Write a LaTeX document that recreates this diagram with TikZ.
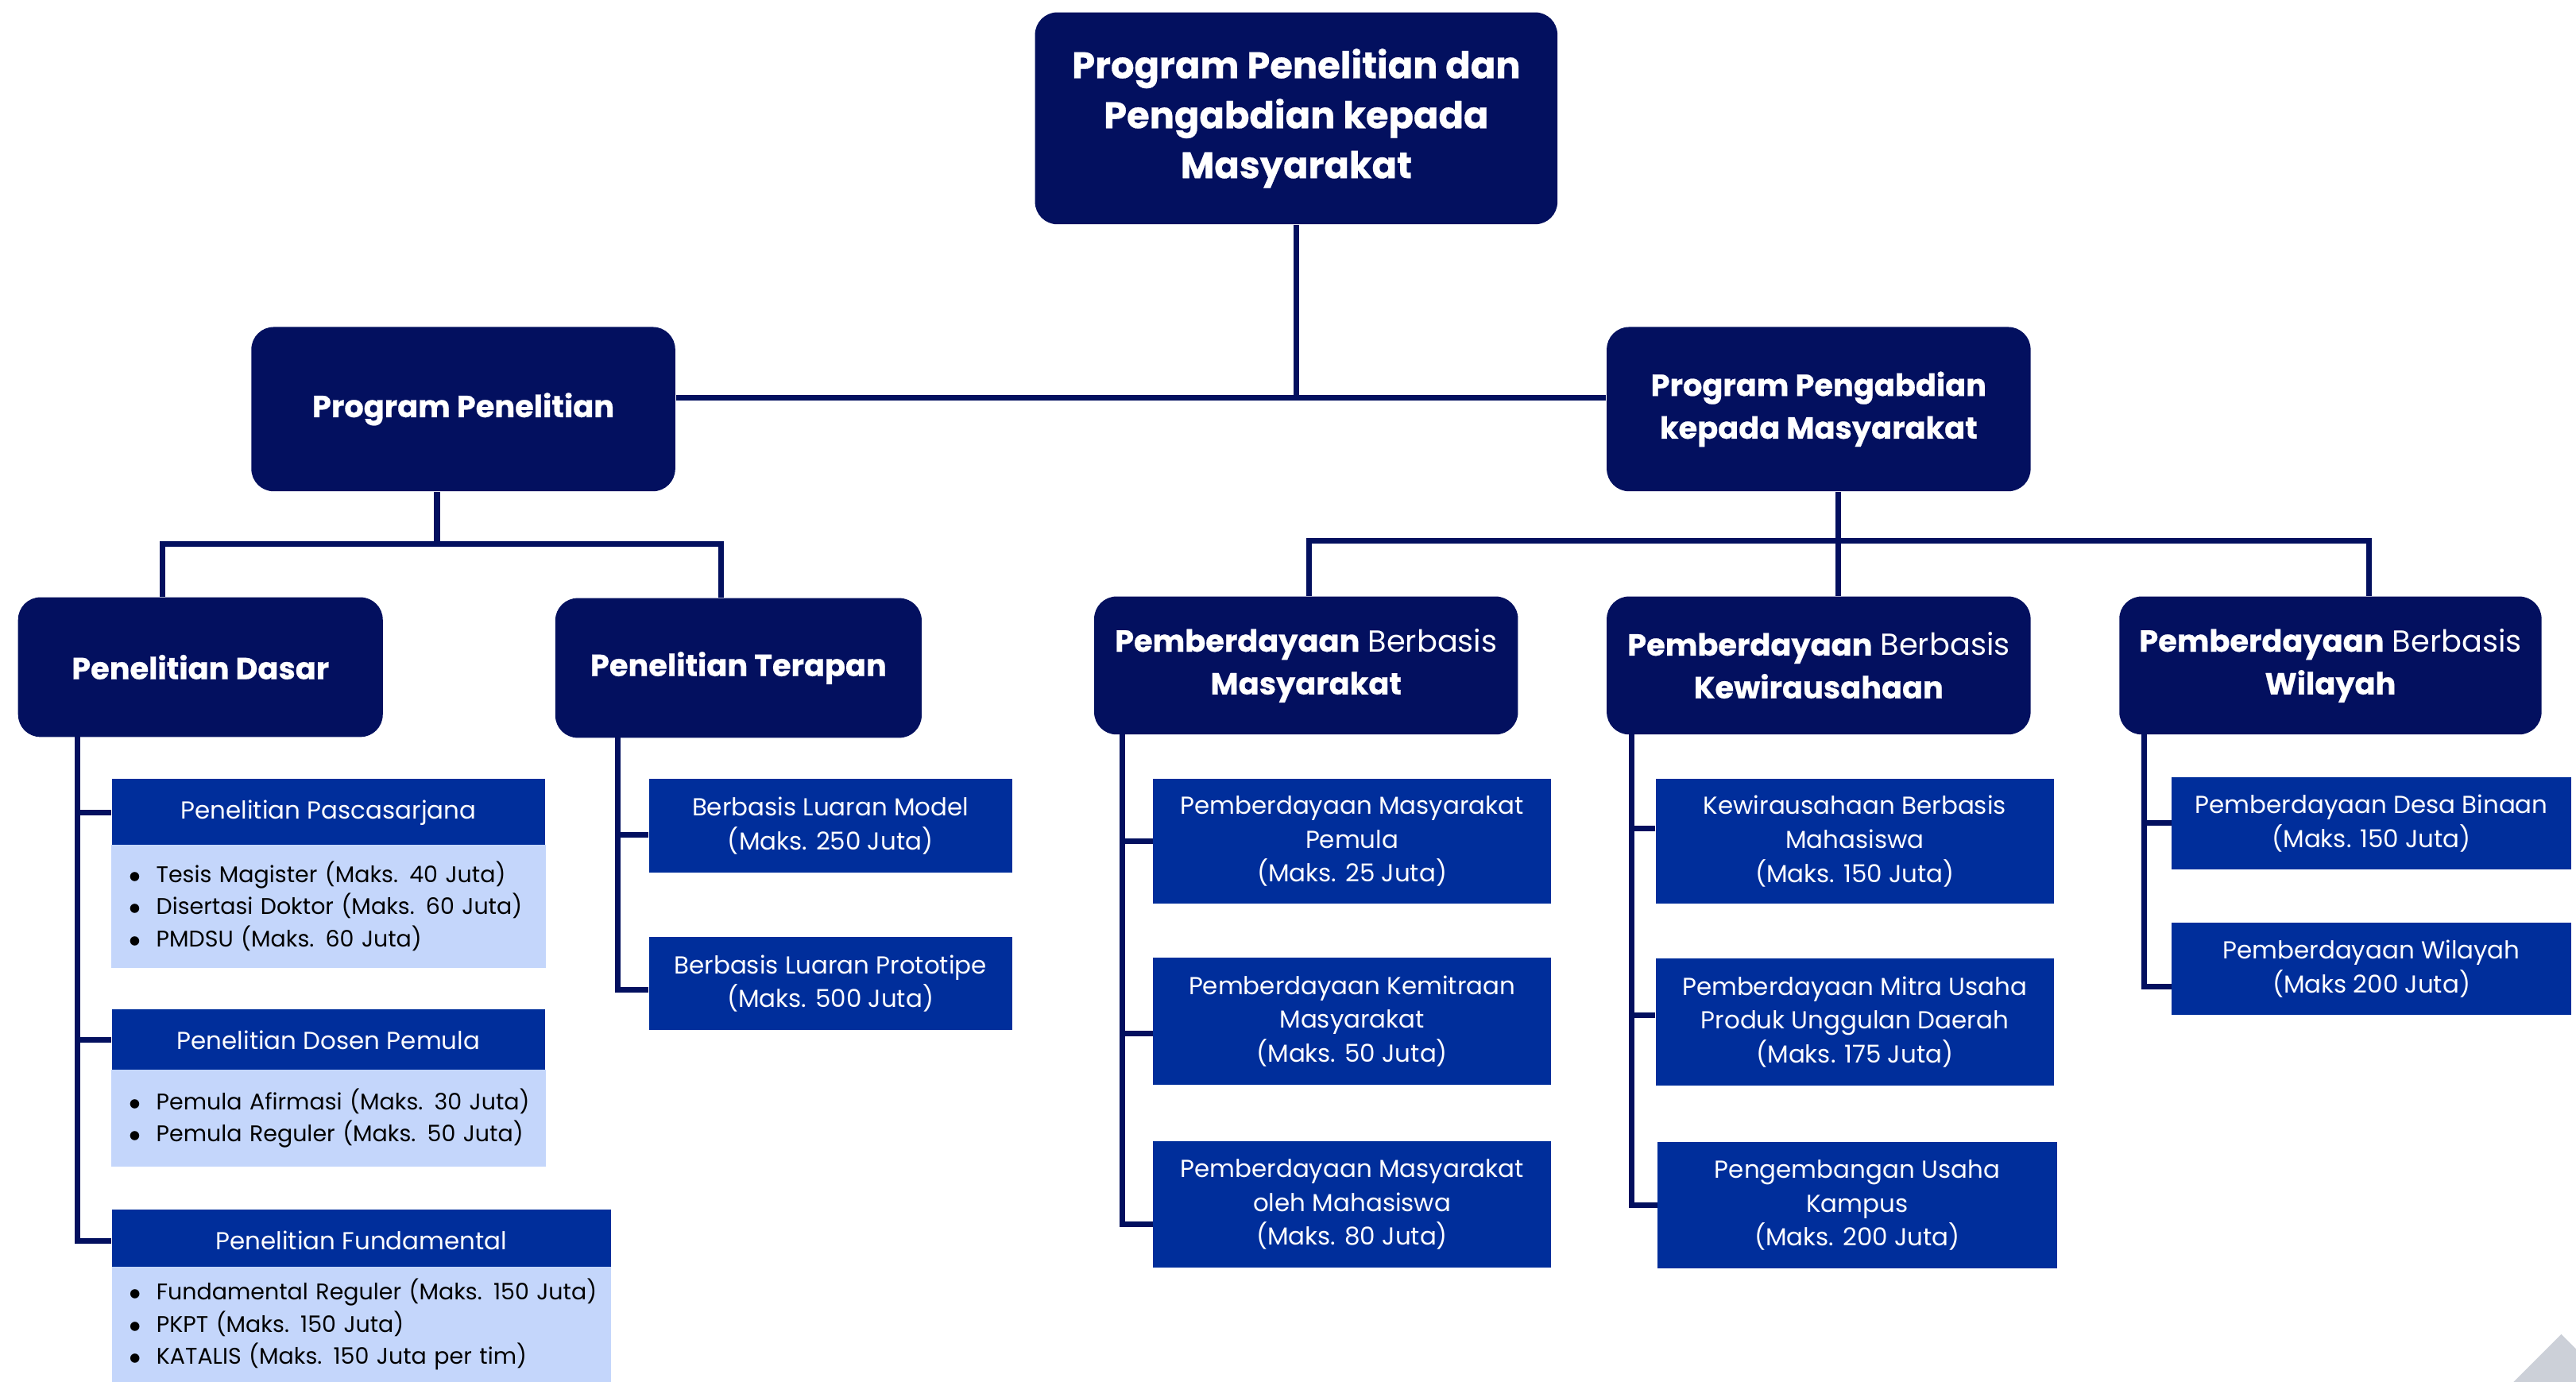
\documentclass[tikz,border=0pt]{standalone}
\usepackage{fontspec}
\setmainfont{Poppins}[BoldFeatures={FakeBold=0.6}]

\definecolor{navy}{RGB}{3,16,95}
\definecolor{royal}{RGB}{0,46,155}
\definecolor{pale}{RGB}{196,214,251}
\definecolor{ghost}{RGB}{204,208,216}

\newdimen\pxu
\pxu=0.020676cm
\newcommand{\itm}[1]{\mbox{\makebox[9.8pt][l]{$\bullet$}#1}}

\begin{document}
\begin{tikzpicture}[
        x=0.020676cm, y=-0.020676cm,
        % Box styles
        rootbox/.style={fill=navy, text=white, rounded corners=8pt, align=center, inner sep=0pt,
            font=\fontsize{13.2}{17.9}\selectfont\bfseries},
        headbox/.style={fill=navy, text=white, rounded corners=8pt, align=center, inner sep=0pt,
            font=\fontsize{10.9}{15.3}\selectfont},
        boldhead/.style={headbox, font=\fontsize{10.9}{15.3}\selectfont\bfseries},
        itembox/.style={fill=royal, text=white, align=center, inner sep=0pt,
            font=\fontsize{8.8}{12.1}\selectfont},
        listbox/.style={fill=pale, text=black, align=left, inner xsep=6.2pt, inner ysep=0pt,
            font=\fontsize{8.1}{11.5}\selectfont},
        link/.style={navy, line width=2pt},
    ]

        \useasboundingbox (0,0) rectangle (1568,841);

        % --- Top level ---
        \node[rootbox, minimum width=318*\pxu, minimum height=129*\pxu] (root) at (789,72)
            {Program Penelitian dan\\Pengabdian kepada\\Masyarakat};

        % --- Programs ---
        \node[boldhead, minimum width=258*\pxu, minimum height=100*\pxu] (penelitian) at (282,249)
            {Program Penelitian};
        \node[boldhead, minimum width=258*\pxu, minimum height=100*\pxu] (pengabdian) at (1107,249)
            {Program Pengabdian\\kepada Masyarakat};

        % --- Penelitian branches ---
        \node[boldhead, minimum width=222*\pxu, minimum height=85*\pxu] (dasar) at (122,406)
            {Penelitian Dasar};
        \node[boldhead, minimum width=223*\pxu, minimum height=85*\pxu] (terapan) at (449.5,406.5)
            {Penelitian Terapan};

        % --- Pengabdian branches ---
        \node[headbox, minimum width=258*\pxu, minimum height=84*\pxu] (masyarakat) at (795,405)
            {\textbf{Pemberdayaan} Berbasis\\\textbf{Masyarakat}};
        \node[headbox, minimum width=258*\pxu, minimum height=84*\pxu] (kewirausahaan) at (1107,405)
            {\textbf{Pemberdayaan} Berbasis\\\textbf{Kewirausahaan}};
        \node[headbox, minimum width=257*\pxu, minimum height=84*\pxu] (wilayah) at (1418.5,405)
            {\textbf{Pemberdayaan} Berbasis\\\textbf{Wilayah}};

        % --- Penelitian Dasar schemes ---
        \node[itembox, minimum width=264*\pxu, minimum height=41*\pxu] (pasca) at (200,494.5)
            {Penelitian Pascasarjana};
        \node[listbox, text width=143pt, minimum height=75*\pxu] (pascalist) at (200,551.5)
            {\itm{Tesis Magister (Maks. 40 Juta)}\\\itm{Disertasi Doktor (Maks. 60 Juta)}\\\itm{PMDSU (Maks. 60 Juta)}};
        \node[itembox, minimum width=264*\pxu, minimum height=38*\pxu] (pemula) at (200,633)
            {Penelitian Dosen Pemula};
        \node[listbox, text width=143pt, minimum height=59*\pxu] (pemulalist) at (200,680.5)
            {\itm{Pemula Afirmasi (Maks. 30 Juta)}\\\itm{Pemula Reguler (Maks. 50 Juta)}};
        \node[itembox, minimum width=304*\pxu, minimum height=38*\pxu] (fundamental) at (220,755)
            {Penelitian Fundamental};
        \node[listbox, text width=166.4pt, minimum height=70*\pxu] (fundlist) at (220,806)
            {\itm{Fundamental Reguler (Maks. 150 Juta)}\\\itm{PKPT (Maks. 150 Juta)}\\\itm{KATALIS (Maks. 150 Juta per tim)}};

        % --- Penelitian Terapan schemes ---
        \node[itembox, minimum width=221*\pxu, minimum height=57*\pxu] (model) at (505.5,502.5)
            {Berbasis Luaran Model\\(Maks. 250 Juta)};
        \node[itembox, minimum width=221*\pxu, minimum height=57*\pxu] (prototipe) at (505.5,598.5)
            {Berbasis Luaran Prototipe\\(Maks. 500 Juta)};

        % --- Berbasis Masyarakat schemes ---
        \node[itembox, minimum width=242*\pxu, minimum height=76*\pxu] (pmp) at (823,512)
            {Pemberdayaan Masyarakat\\Pemula\\(Maks. 25 Juta)};
        \node[itembox, minimum width=242*\pxu, minimum height=77*\pxu] (kemitraan) at (823,621.5)
            {Pemberdayaan Kemitraan\\Masyarakat\\(Maks. 50 Juta)};
        \node[itembox, minimum width=242*\pxu, minimum height=77*\pxu] (mahasiswa) at (823,733)
            {Pemberdayaan Masyarakat\\oleh Mahasiswa\\(Maks. 80 Juta)};

        % --- Berbasis Kewirausahaan schemes ---
        \node[itembox, minimum width=242*\pxu, minimum height=76*\pxu] (kbm) at (1129,512)
            {Kewirausahaan Berbasis\\Mahasiswa\\(Maks. 150 Juta)};
        \node[itembox, minimum width=242*\pxu, minimum height=77*\pxu] (mitra) at (1129,622)
            {Pemberdayaan Mitra Usaha\\Produk Unggulan Daerah\\(Maks. 175 Juta)};
        \node[itembox, minimum width=243*\pxu, minimum height=77*\pxu] (kampus) at (1130.5,733.5)
            {Pengembangan Usaha\\Kampus\\(Maks. 200 Juta)};

        % --- Berbasis Wilayah schemes ---
        \node[itembox, minimum width=243*\pxu, minimum height=56*\pxu] (desa) at (1443.5,501)
            {Pemberdayaan Desa Binaan\\(Maks. 150 Juta)};
        \node[itembox, minimum width=243*\pxu, minimum height=56*\pxu] (wilbox) at (1443.5,589.5)
            {Pemberdayaan Wilayah\\(Maks 200 Juta)};

        % --- Junctions ---
        \coordinate (hub) at (790,242);
        \coordinate (pjoint) at (266,331);
        \coordinate (pleft) at (99,331);
        \coordinate (pright) at (439,331);
        \coordinate (kjoint) at (1119,329);
        \coordinate (kleft) at (797,329);
        \coordinate (kright) at (1442,329);
        \coordinate (dtrunk) at (47,447);
        \coordinate (ttrunk) at (376,448);
        \coordinate (mtrunk) at (683,446);
        \coordinate (ktrunk) at (993,446);
        \coordinate (wtrunk) at (1305,446);

        % --- Top connections ---
        \draw[link] (root.south) -- (root.south |- hub);
        \draw[link] (penelitian.east |- hub) -- (pengabdian.west |- hub);

        % Penelitian fork
        \draw[link] (penelitian.south -| pjoint) -- (pjoint);
        \draw[link] (dasar.north -| pleft) |- (pright) -- (terapan.north -| pright);

        % Pengabdian fork
        \draw[link] (pengabdian.south -| kjoint) -- (kewirausahaan.north -| kjoint);
        \draw[link] (masyarakat.north -| kleft) |- (kright) -- (wilayah.north -| kright);

        % --- Scheme trunks ---
        \draw[link] (dtrunk) |- (fundamental.west);
        \foreach \n in {pasca, pemula}
            \draw[link] (\n.west) -| (dtrunk);

        \draw[link] (ttrunk) |- ([yshift=-2.4pt]prototipe.west);
        \draw[link] ([yshift=-3.2pt]model.west) -| (ttrunk);

        \draw[link] (mtrunk) |- ([yshift=-7pt]mahasiswa.west);
        \foreach \n/\s in {pmp/0pt, kemitraan/-4.4pt}
            \draw[link] ([yshift=\s]\n.west) -| (mtrunk);

        \draw[link] (ktrunk) |- (kampus.west);
        \foreach \n/\s in {kbm/4.7pt, mitra/2.4pt}
            \draw[link] ([yshift=\s]\n.west) -| (ktrunk);

        \draw[link] (wtrunk) |- ([yshift=-6.5pt]wilbox.west);
        \draw[link] (desa.west) -| (wtrunk);

        % corner mark
        \fill[ghost] (1530,841) -- (1559,812) -- (1568,821) -- (1568,841) -- cycle;

    \end{tikzpicture}
\end{document}
